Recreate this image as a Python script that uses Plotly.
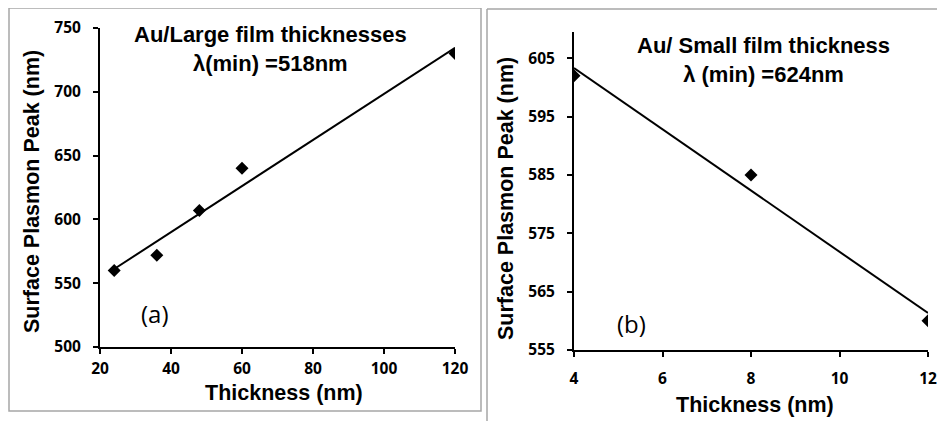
import numpy as np
import plotly.graph_objects as go

# Panel (a): Au / large film thicknesses
thick_a = [24, 36, 48, 60, 120]
peak_a = [560, 572, 607, 640, 730]
title_a = "Au/Large film thicknesses<br>λ(min) =518nm"
xticks_a = [20, 40, 60, 80, 100, 120]
yticks_a = [500, 550, 600, 650, 700, 750]

# Panel (b): Au / small film thickness
thick_b = [4, 8, 12]
peak_b = [602, 585, 560]
title_b = "Au/ Small film thickness<br>λ (min) =624nm"
xticks_b = [4, 6, 8, 10, 12]
yticks_b = [555, 565, 575, 585, 595, 605]

W, H = 945, 421
OFF = 8  # page body margin offset

def px_x(p):
    return (p - OFF) / W

def px_y(p):
    return 1 - (p - OFF) / H

def fit_line(x, y):
    k, b = np.polyfit(x, y, 1)
    xs = [min(x), max(x)]
    return xs, [k * v + b for v in xs]

fig = go.Figure()

BLACK = "black"
for (xs, ys, xa, ya) in [(thick_a, peak_a, "x", "y"), (thick_b, peak_b, "x2", "y2")]:
    lx, ly = fit_line(xs, ys)
    fig.add_trace(go.Scatter(x=lx, y=ly, mode="lines", line=dict(color=BLACK, width=2),
                             xaxis=xa, yaxis=ya, showlegend=False, hoverinfo="skip"))
    fig.add_trace(go.Scatter(x=xs, y=ys, mode="markers",
                             marker=dict(symbol="diamond", size=10, color=BLACK),
                             xaxis=xa, yaxis=ya, showlegend=False))

tickfont = dict(family="Open Sans", size=15.5, color=BLACK, weight=700)
common_axis = dict(showline=True, linecolor=BLACK, linewidth=2, ticks="outside",
                   ticklen=5, tickwidth=2, tickcolor=BLACK, showgrid=False,
                   zeroline=False, tickfont=tickfont, automargin=False)

fig.update_layout(
    width=W, height=H,
    margin=dict(l=0, r=0, t=0, b=0, pad=0, autoexpand=False),
    paper_bgcolor="white", plot_bgcolor="white",
    xaxis=dict(domain=[px_x(100), px_x(455)], range=[20, 120], tickvals=xticks_a,
               anchor="y", ticklabelstandoff=1, **common_axis),
    yaxis=dict(domain=[px_y(347), px_y(28)], range=[500, 750], tickvals=yticks_a,
               anchor="x", ticklabelstandoff=9, **common_axis),
    xaxis2=dict(domain=[px_x(574), px_x(928)], range=[4, 12], tickvals=xticks_b,
                anchor="y2", ticklabelstandoff=8, **common_axis),
    yaxis2=dict(domain=[px_y(350), px_y(32)], range=[555, 609.5], tickvals=yticks_b,
                anchor="x2", ticklabelstandoff=9, **common_axis),
)

titlefont = dict(family="Liberation Sans, Arial, sans-serif", size=22, color=BLACK, weight="bold")
axfont = dict(family="Liberation Sans, Arial, sans-serif", size=21.5, color=BLACK, weight="bold")
labfont = dict(family="Open Sans, Lato, sans-serif", size=24, color=BLACK)

ann = [
    (270, 49, title_a, titlefont, 0),
    (763, 60, title_b, titlefont, 0),
    (284, 393, "Thickness (nm)", axfont, 0),
    (755, 405, "Thickness (nm)", axfont, 0),
    (32, 192, "Surface Plasmon Peak (nm)", axfont, -90),
    (506, 199, "Surface Plasmon Peak (nm)", axfont, -90),
    (155, 313, "(a)", labfont, 0),
    (631, 323, "(b)", labfont, 0),
]
for (x, y, t, f, ang) in ann:
    fig.add_annotation(x=px_x(x), y=px_y(y), xref="paper", yref="paper", text=t,
                       showarrow=False, font=f, textangle=ang, xanchor="center",
                       yanchor="middle", align="center")

GRAY = "#a6a6a6"
fig.add_shape(type="rect", xref="paper", yref="paper", x0=px_x(9), y0=px_y(411),
              x1=px_x(481), y1=px_y(8), line=dict(color=GRAY, width=1.5))
fig.add_shape(type="line", xref="paper", yref="paper", x0=px_x(487), y0=px_y(9),
              x1=1, y1=px_y(9), line=dict(color=GRAY, width=1.5))
fig.add_shape(type="line", xref="paper", yref="paper", x0=px_x(487), y0=px_y(9),
              x1=px_x(487), y1=0, line=dict(color=GRAY, width=1.5))

fig.write_html("out.html")
